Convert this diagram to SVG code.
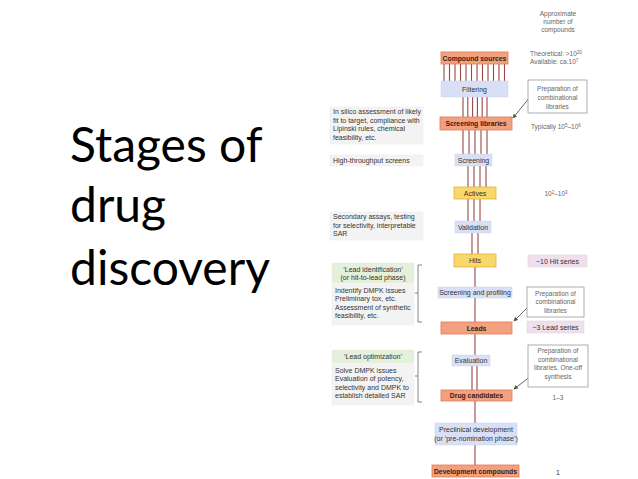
<svg xmlns="http://www.w3.org/2000/svg" width="638" height="479" viewBox="0 0 638 479">
<style>
.t{font-family:"Liberation Sans",Arial,sans-serif;font-size:7px;fill:#333}
.b{font-family:"Liberation Sans",Arial,sans-serif;font-size:6.8px;font-weight:bold;fill:#3a1a10;text-anchor:middle}
.m{text-anchor:middle}
.g{fill:#666;font-size:6.5px}
.or{fill:#f2a07e;stroke:#e27a55;stroke-width:0.8}
.bl{fill:#d9e0f6;stroke:#c8d2ee;stroke-width:0.5}
.ye{fill:#f8d86a;stroke:#e4b23a;stroke-width:0.8}
.pk{fill:#efe0ec;stroke:#e2cfe0;stroke-width:0.5}
.gy{fill:#f3f3f3;stroke:#ececec;stroke-width:0.5}
.gr{fill:#e4f0da}
.pr{fill:#fff;stroke:#9a9a9a;stroke-width:0.8}
.ln{stroke:#9a4848;stroke-width:1.1;fill:none}
.ar{stroke:#555;stroke-width:0.9;fill:none}
.br{stroke:#666;stroke-width:0.8;fill:none}
.ti{font-family:Lato,"Open Sans",sans-serif;font-size:48px;fill:#000}
</style>
<defs>
<marker id="ah" viewBox="0 0 6 6" refX="5" refY="3" markerWidth="5" markerHeight="5" orient="auto">
<path d="M0,0 L6,3 L0,6 z" fill="#555"/>
</marker>
</defs>
<rect width="638" height="479" fill="#fff"/>
<g id="title">
<text class="ti" x="70" y="162">Stages of</text>
<text class="ti" x="70" y="222">drug</text>
<text class="ti" x="70" y="285">discovery</text>
</g>
<g id="connectors">
<path class="ln" d="M444,64V81M449.5,64V81M455,64V81M460.5,64V81M466,64V81M471.5,64V81M477,64V81M482.5,64V81M488,64V81M493.5,64V81M499,64V81M504.5,64V81"/>
<path class="ln" d="M463,97V117M467.8,97V117M472.6,97V117M477.4,97V117M482.2,97V117M487,97V117"/>
<path class="ln" d="M463,130V154M469,130V154M475,130V154M481,130V154M487,130V154"/>
<path class="ln" d="M468,166V187M474,166V187M480,166V187M486,166V187"/>
<path class="ln" d="M468,199V221M474,199V221M480,199V221"/>
<path class="ln" d="M472,233V254M478,233V254"/>
<path class="ln" d="M475,267V287M475,298V322M475,334V355M472,366V390M477,366V390M475,401V423M475,445V465"/>
<path class="ar" d="M530,97L513,118" marker-end="url(#ah)"/>
<path class="ar" d="M530,305L514,321" marker-end="url(#ah)"/>
<path class="ar" d="M531,376L514,389" marker-end="url(#ah)"/>
<path class="br" d="M422,265H418V322H422M418,293H415"/>
<path class="br" d="M422,352H418V402H422M418,376H415"/>
</g>
<g id="n-header"><text class="t g m" x="558" y="16">Approximate</text><text class="t g m" x="558" y="24">number of</text><text class="t g m" x="558" y="32">compounds</text></g>
<g id="n-compound-sources"><rect class="or" x="441" y="52" width="67" height="12"/><text class="b" x="474.5" y="60.5">Compound sources</text></g>
<g id="n-theoretical"><text class="t g" x="530" y="56">Theoretical: &gt;10<tspan font-size="4.5" dy="-2.5">20</tspan></text><text class="t g" x="530" y="64">Available: ca.10<tspan font-size="4.5" dy="-2.5">7</tspan></text></g>
<g id="n-filtering"><rect class="bl" x="441" y="81" width="67" height="16"/><text class="t m" x="474.5" y="91.5">Filtering</text></g>
<g id="n-prep1"><rect class="pr" x="528" y="80" width="59" height="33"/><text class="t g m" x="557.5" y="91">Preparation of</text><text class="t g m" x="557.5" y="100">combinational</text><text class="t g m" x="557.5" y="108.5">libraries</text></g>
<g id="n-insilico"><rect class="gy" x="330" y="107" width="93" height="37"/><text class="t" x="333" y="114">In silico assessment of likely</text><text class="t" x="333" y="122.5">fit to target, compliance with</text><text class="t" x="333" y="131">Lipinski rules, chemical</text><text class="t" x="333" y="139.5">feasibility, etc.</text></g>
<g id="n-screening-libraries"><rect class="or" x="440" y="117" width="72" height="13"/><text class="b" x="476" y="126">Screening libraries</text></g>
<g id="n-typically"><text class="t g" x="531" y="129">Typically 10<tspan font-size="4.5" dy="-2.5">5</tspan><tspan dy="2.5">–10</tspan><tspan font-size="4.5" dy="-2.5">6</tspan></text></g>
<g id="n-hts"><rect class="gy" x="330" y="155" width="93" height="11"/><text class="t" x="333" y="163">High-throughput screens</text></g>
<g id="n-screening"><rect class="bl" x="455" y="154" width="37" height="12"/><text class="t m" x="473.5" y="162.5">Screening</text></g>
<g id="n-actives"><rect class="ye" x="454" y="187" width="42" height="12"/><text class="t m" x="475" y="195.5">Actives</text></g>
<g id="n-actives-count"><text class="t g m" x="556" y="196">10<tspan font-size="4.5" dy="-2.5">2</tspan><tspan dy="2.5">–10</tspan><tspan font-size="4.5" dy="-2.5">3</tspan></text></g>
<g id="n-secondary"><rect class="gy" x="330" y="212" width="93" height="28"/><text class="t" x="333" y="219">Secondary assays, testing</text><text class="t" x="333" y="227.5">for selectivity, interpretable</text><text class="t" x="333" y="236">SAR</text></g>
<g id="n-validation"><rect class="bl" x="455" y="221" width="36" height="12"/><text class="t m" x="473" y="229.5">Validation</text></g>
<g id="n-hits"><rect class="ye" x="454" y="254" width="42" height="13"/><text class="t m" x="475" y="263">Hits</text></g>
<g id="n-hit-series"><rect class="pk" x="528" y="255" width="59" height="12"/><text class="t m" x="557.5" y="263.5">~10 Hit series</text></g>
<g id="n-lead-id"><rect class="gy" x="332" y="263" width="82" height="62"/><rect class="gr" x="332" y="263" width="82" height="20"/><text class="t m" x="373" y="271.5">‘Lead identification’</text><text class="t m" x="373" y="280">(or hit-to-lead phase)</text><text class="t" x="335" y="292.5">Indentify DMPK issues</text><text class="t" x="335" y="301">Preliminary tox, etc.</text><text class="t" x="335" y="309.5">Assessment of synthetic</text><text class="t" x="335" y="318">feasibility, etc.</text></g>
<g id="n-screening-profiling"><rect class="bl" x="438" y="287" width="74" height="11"/><text class="t m" x="475" y="295">Screening and profiling</text></g>
<g id="n-prep2"><rect class="pr" x="527" y="287" width="57" height="30"/><text class="t g m" x="555.5" y="295.5">Preparation of</text><text class="t g m" x="555.5" y="304">combinational</text><text class="t g m" x="555.5" y="312.5">libraries</text></g>
<g id="n-leads"><rect class="or" x="441" y="322" width="71" height="12"/><text class="b" x="476.5" y="330.5">Leads</text></g>
<g id="n-lead-series"><rect class="pk" x="527" y="321" width="57" height="12"/><text class="t m" x="555.5" y="329.5">~3 Lead series</text></g>
<g id="n-lead-opt"><rect class="gy" x="332" y="350" width="82" height="55"/><rect class="gr" x="332" y="350" width="82" height="13"/><text class="t m" x="373" y="359">‘Lead optimization’</text><text class="t" x="335" y="372.5">Solve DMPK issues</text><text class="t" x="335" y="381">Evaluation of potency,</text><text class="t" x="335" y="389.5">selectivity and DMPK to</text><text class="t" x="335" y="398">establish detailed SAR</text></g>
<g id="n-evaluation"><rect class="bl" x="452" y="355" width="38" height="11"/><text class="t m" x="471" y="363">Evaluation</text></g>
<g id="n-prep3"><rect class="pr" x="528" y="345" width="60" height="42"/><text class="t g m" x="558" y="353">Preparation of</text><text class="t g m" x="558" y="361.5">combinational</text><text class="t g m" x="558" y="370">libraries. One-off</text><text class="t g m" x="558" y="378.5">synthesis</text></g>
<g id="n-drug-candidates"><rect class="or" x="441" y="390" width="71" height="11"/><text class="b" x="476.5" y="398">Drug candidates</text></g>
<g id="n-dc-count"><text class="t g m" x="558" y="400">1–3</text></g>
<g id="n-preclinical"><rect class="bl" x="435" y="423" width="82" height="22"/><text class="t m" x="476" y="432">Preclinical development</text><text class="t m" x="476" y="441">(or ‘pre-nomination phase’)</text></g>
<g id="n-dev-compounds"><rect class="or" x="432" y="465" width="87" height="12"/><text class="b" x="475.5" y="474">Development compounds</text></g>
<g id="n-dev-count"><text class="t m" x="558" y="475">1</text></g>
</svg>
